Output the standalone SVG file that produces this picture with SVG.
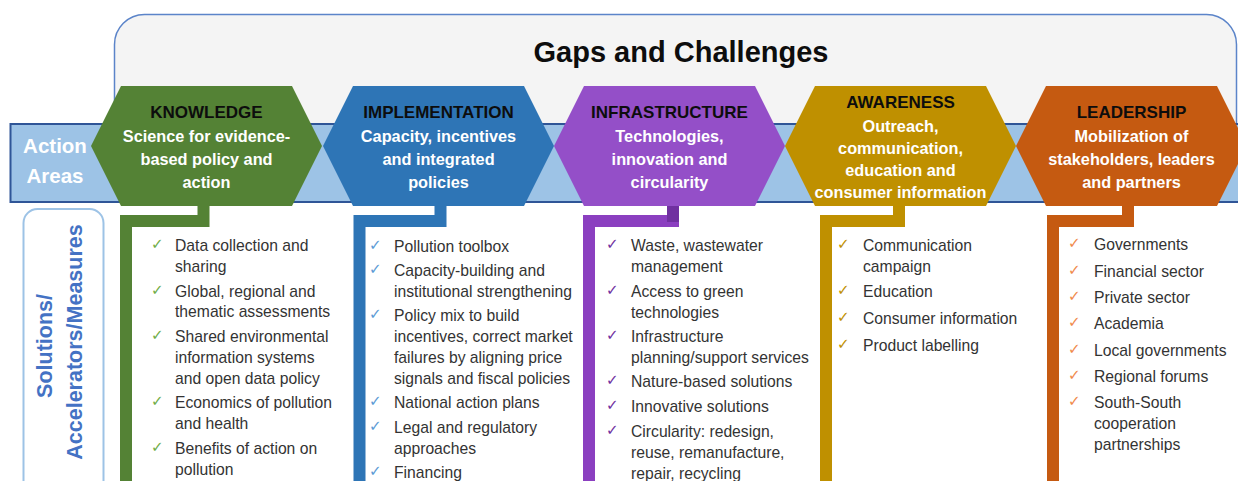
<svg xmlns="http://www.w3.org/2000/svg" width="1238" height="481" viewBox="0 0 1238 481">
<style>
.ttl{font-family:"Liberation Sans",Arial,sans-serif;font-weight:bold;font-size:17px;fill:#0d0d0d;text-anchor:middle}
.sub{font-family:"Liberation Sans",Arial,sans-serif;font-weight:bold;font-size:16.3px;fill:#ffffff;text-anchor:middle}
.item{font-family:"Liberation Sans",Arial,sans-serif;font-size:15.7px;fill:#333333}
.chk{font-family:"DejaVu Sans",sans-serif;font-size:15px}
.side{font-family:"Liberation Sans",Arial,sans-serif;font-weight:bold;font-size:21.5px;fill:#4472c4;text-anchor:middle}
.act{font-family:"Liberation Sans",Arial,sans-serif;font-weight:bold;font-size:20.5px;fill:#ffffff;text-anchor:middle}
.conn{fill:none;stroke-width:12;stroke-linejoin:miter;stroke-linecap:butt}
</style>
<rect width="1238" height="481" fill="#ffffff"/>
<g id="gaps">
<rect x="114.5" y="14.5" width="1122" height="140" rx="30" fill="#f4f4f4" stroke="#5b84c9" stroke-width="1.5"/>
<text x="681" y="62" font-family="Liberation Sans, Arial, sans-serif" font-weight="bold" font-size="29" fill="#0d0d0d" text-anchor="middle">Gaps and Challenges</text>
</g>
<g id="action-band">
<rect x="10.5" y="124" width="1240" height="78" fill="#9dc3e6" stroke="#2f5597" stroke-width="2"/>
<text class="act" x="55" y="153">Action</text>
<text class="act" x="55" y="183">Areas</text>
</g>
<g id="solutions-label">
<rect x="23.5" y="209" width="80" height="290" rx="14" fill="#ffffff" stroke="#9dc3e6" stroke-width="2"/>
<text class="side" transform="translate(52,346) rotate(-90)">Solutions/</text>
<text class="side" transform="translate(82,342) rotate(-90)">Accelerators/Measures</text>
</g>
<g id="connectors">
<path class="conn" stroke="#548235" d="M203.5,204 V221 H126 V481"/>
<path class="conn" stroke="#2e75b6" d="M440.5,204 V221 H359.5 V481"/>
<path class="conn" stroke="#8b3fc0" d="M673,204 V221 H589 V481"/>
<rect x="667" y="201" width="12" height="21" fill="#7030a0"/>
<path class="conn" stroke="#bf9000" d="M899,204 V221 H826 V481"/>
<path class="conn" stroke="#c55a11" d="M1128,204 V221 H1053 V481"/>
</g>
<g id="knowledge">
<polygon points="91,146 121,86 292,86 322,146 292,206 121,206" fill="#548235"/>
<text class="ttl" x="206.5" y="118">KNOWLEDGE</text>
<text class="sub" x="206.5" y="142">Science for evidence-</text>
<text class="sub" x="206.5" y="165">based policy and</text>
<text class="sub" x="206.5" y="188">action</text>
</g>
<g id="implementation">
<polygon points="323,146 353,86 524,86 554,146 524,206 353,206" fill="#2e75b6"/>
<text class="ttl" x="438.5" y="118">IMPLEMENTATION</text>
<text class="sub" x="438.5" y="142">Capacity, incentives</text>
<text class="sub" x="438.5" y="165">and integrated</text>
<text class="sub" x="438.5" y="188">policies</text>
</g>
<g id="infrastructure">
<polygon points="554,146 584,86 755,86 785,146 755,206 584,206" fill="#944fc8"/>
<text class="ttl" x="669.5" y="118">INFRASTRUCTURE</text>
<text class="sub" x="669.5" y="142">Technologies,</text>
<text class="sub" x="669.5" y="165">innovation and</text>
<text class="sub" x="669.5" y="188">circularity</text>
</g>
<g id="awareness">
<polygon points="785,146 815,86 986,86 1016,146 986,206 815,206" fill="#bf9000"/>
<text class="ttl" x="900.5" y="108">AWARENESS</text>
<text class="sub" x="900.5" y="132">Outreach,</text>
<text class="sub" x="900.5" y="154">communication,</text>
<text class="sub" x="900.5" y="176">education and</text>
<text class="sub" x="900.5" y="198">consumer information</text>
</g>
<g id="leadership">
<polygon points="1016,146 1046,86 1217,86 1247,146 1217,206 1046,206" fill="#c55a11"/>
<text class="ttl" x="1131.5" y="118">LEADERSHIP</text>
<text class="sub" x="1131.5" y="142">Mobilization of</text>
<text class="sub" x="1131.5" y="165">stakeholders, leaders</text>
<text class="sub" x="1131.5" y="188">and partners</text>
</g>
<g id="knowledge-list">
<g class="chk" fill="#70ad47">
<text x="151" y="249">✓</text><text x="151" y="295">✓</text><text x="151" y="340">✓</text><text x="151" y="406">✓</text><text x="151" y="452">✓</text>
</g>
<text class="item" x="175" y="251">Data collection and</text>
<text class="item" x="175" y="272">sharing</text>
<text class="item" x="175" y="297">Global, regional and</text>
<text class="item" x="175" y="317">thematic assessments</text>
<text class="item" x="175" y="342">Shared environmental</text>
<text class="item" x="175" y="363">information systems</text>
<text class="item" x="175" y="384">and open data policy</text>
<text class="item" x="175" y="408">Economics of pollution</text>
<text class="item" x="175" y="429">and health</text>
<text class="item" x="175" y="454">Benefits of action on</text>
<text class="item" x="175" y="475">pollution</text>
</g>
<g id="implementation-list">
<g class="chk" fill="#5b9bd5">
<text x="369" y="250">✓</text><text x="369" y="274">✓</text><text x="369" y="319">✓</text><text x="369" y="406">✓</text><text x="369" y="431">✓</text><text x="369" y="476">✓</text>
</g>
<text class="item" x="394" y="252">Pollution toolbox</text>
<text class="item" x="394" y="276">Capacity-building and</text>
<text class="item" x="394" y="297">institutional strengthening</text>
<text class="item" x="394" y="321">Policy mix to build</text>
<text class="item" x="394" y="342">incentives, correct market</text>
<text class="item" x="394" y="363">failures by aligning price</text>
<text class="item" x="394" y="384">signals and fiscal policies</text>
<text class="item" x="394" y="408">National action plans</text>
<text class="item" x="394" y="433">Legal and regulatory</text>
<text class="item" x="394" y="454">approaches</text>
<text class="item" x="394" y="478">Financing</text>
</g>
<g id="infrastructure-list">
<g class="chk" fill="#7030a0">
<text x="606" y="249">✓</text><text x="606" y="295">✓</text><text x="606" y="340">✓</text><text x="606" y="385">✓</text><text x="606" y="410">✓</text><text x="606" y="435">✓</text>
</g>
<text class="item" x="631" y="251">Waste, wastewater</text>
<text class="item" x="631" y="272">management</text>
<text class="item" x="631" y="297">Access to green</text>
<text class="item" x="631" y="318">technologies</text>
<text class="item" x="631" y="342">Infrastructure</text>
<text class="item" x="631" y="363">planning/support services</text>
<text class="item" x="631" y="387">Nature-based solutions</text>
<text class="item" x="631" y="412">Innovative solutions</text>
<text class="item" x="631" y="437">Circularity: redesign,</text>
<text class="item" x="631" y="458">reuse, remanufacture,</text>
<text class="item" x="631" y="479">repair, recycling</text>
</g>
<g id="awareness-list">
<g class="chk" fill="#bf9000">
<text x="837" y="249">✓</text><text x="837" y="295">✓</text><text x="837" y="322">✓</text><text x="837" y="349">✓</text>
</g>
<text class="item" x="863" y="251">Communication</text>
<text class="item" x="863" y="272">campaign</text>
<text class="item" x="863" y="297">Education</text>
<text class="item" x="863" y="324">Consumer information</text>
<text class="item" x="863" y="351">Product labelling</text>
</g>
<g id="leadership-list">
<g class="chk" fill="#f08a4b">
<text x="1068" y="248">✓</text><text x="1068" y="275">✓</text><text x="1068" y="301">✓</text><text x="1068" y="327">✓</text><text x="1068" y="354">✓</text><text x="1068" y="380">✓</text><text x="1068" y="406">✓</text>
</g>
<text class="item" x="1094" y="250">Governments</text>
<text class="item" x="1094" y="277">Financial sector</text>
<text class="item" x="1094" y="303">Private sector</text>
<text class="item" x="1094" y="329">Academia</text>
<text class="item" x="1094" y="356">Local governments</text>
<text class="item" x="1094" y="382">Regional forums</text>
<text class="item" x="1094" y="408">South-South</text>
<text class="item" x="1094" y="429">cooperation</text>
<text class="item" x="1094" y="450">partnerships</text>
</g>
</svg>
